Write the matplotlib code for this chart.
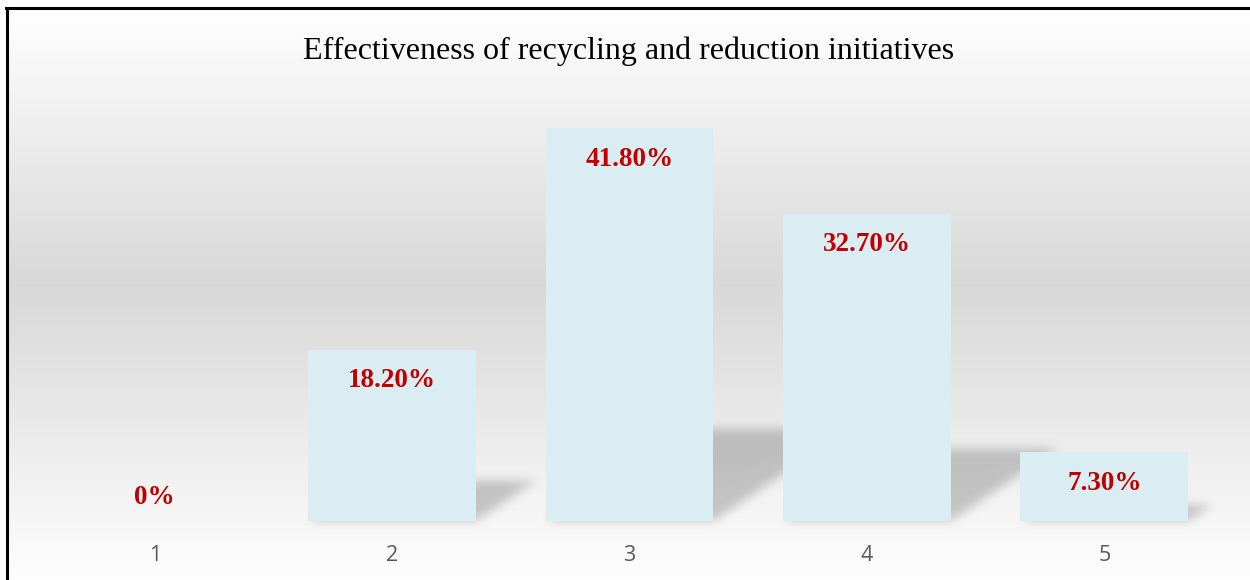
import numpy as np
import matplotlib
matplotlib.use("Agg")
import matplotlib.pyplot as plt
from matplotlib.patches import Polygon
from matplotlib.lines import Line2D

# ---- data ----
categories = ["1", "2", "3", "4", "5"]
values = [0.0, 18.2, 41.8, 32.7, 7.3]
value_labels = ["0%", "18.20%", "41.80%", "32.70%", "7.30%"]
title = "Effectiveness of recycling and reduction initiatives"

W, H = 1250, 580
fig = plt.figure(figsize=(W / 100, H / 100), dpi=100)
fig.patch.set_facecolor("white")

# ---- background gradient (figure level) ----
bg = fig.add_axes([0, 0, 1, 1], zorder=-10)
bg.set_axis_off()
ys = np.arange(H)
stops_y = [0, 8, 285, 580]
stops_v = [255, 254, 215, 253]
g = np.interp(ys, stops_y, stops_v) / 255.0
img = np.repeat(g[:, None], W, axis=1)
img[:7, :] = 1.0
img[:, :6] = 1.0
bg.imshow(img, cmap="gray", vmin=0, vmax=1, aspect="auto",
          extent=[0, W, H, 0], interpolation="nearest")
bg.set_xlim(0, W)
bg.set_ylim(H, 0)

# frame lines (left and top)
fig.add_artist(Line2D([7 / W, 7 / W], [0, 1 - 7.5 / H], color="black", lw=2.2,
                      transform=fig.transFigure))
fig.add_artist(Line2D([6 / W, 1], [1 - 7.5 / H, 1 - 7.5 / H], color="black", lw=2.2,
                      transform=fig.transFigure))

# ---- main axes ----
ax = fig.add_axes([36 / W, (H - 521) / H, 1187 / W, 423 / H])
ax.patch.set_alpha(0)
ax.set_xlim(-0.5, len(categories) - 0.5)
ax.set_ylim(0, 45)
for sp in ax.spines.values():
    sp.set_visible(False)
ax.set_yticks([])
x = np.arange(len(categories))
ax.set_xticks(x)
ax.set_xticklabels(categories, fontfamily="Open Sans", fontsize=15.5, color="#595959")
ax.tick_params(axis="x", length=0, pad=17)

bar_w = 0.707
bars = ax.bar(x, values, width=bar_w, color="#DAEDF3", edgecolor="none", zorder=3)


# ---- blurred perspective shadows ----
def make_blur(sigma, color=(0, 0, 0), alpha=0.2):
    r = int(3 * sigma)
    t = np.arange(-r, r + 1)
    k = np.exp(-0.5 * (t / sigma) ** 2)
    k /= k.sum()

    def f(im, dpi):
        a = im[..., 3]
        a = np.pad(a, r)
        out = np.zeros_like(a)
        for i, kk in enumerate(k):
            out += kk * np.roll(a, i - r, axis=0)
        a2 = np.zeros_like(out)
        for i, kk in enumerate(k):
            a2 += kk * np.roll(out, i - r, axis=1)
        res = np.zeros(a2.shape + (4,))
        res[..., 0] = color[0]
        res[..., 1] = color[1]
        res[..., 2] = color[2]
        res[..., 3] = a2 * alpha
        return res, -r, -r
    return f


for xi, v in zip(x, values):
    if v <= 0:
        continue
    h = 0.235 * v
    s = 0.0138 * v
    poly = Polygon([(xi - bar_w / 2, 0), (xi + bar_w / 2, 0),
                    (xi + bar_w / 2 + s, h), (xi - bar_w / 2 + s, h)],
                   closed=True, facecolor="black", edgecolor="none", zorder=2)
    poly.set_agg_filter(make_blur(5.0))
    ax.add_patch(poly)

# ---- value labels ----
for xi, v, lab in zip(x, values, value_labels):
    off = 24 if v == 0 else -31
    ax.annotate(lab, (xi, v), xytext=(0, off), textcoords="offset pixels",
                ha="center", va="center", fontfamily="Liberation Serif",
                fontweight="bold", fontsize=19.5, color="#C00000", zorder=5)

# ---- title ----
fig.text(629 / W, 1 - 51 / H, title, ha="center", va="center",
         fontfamily="Liberation Serif", fontsize=23, color="black")

fig.savefig("out.png", dpi=100)
